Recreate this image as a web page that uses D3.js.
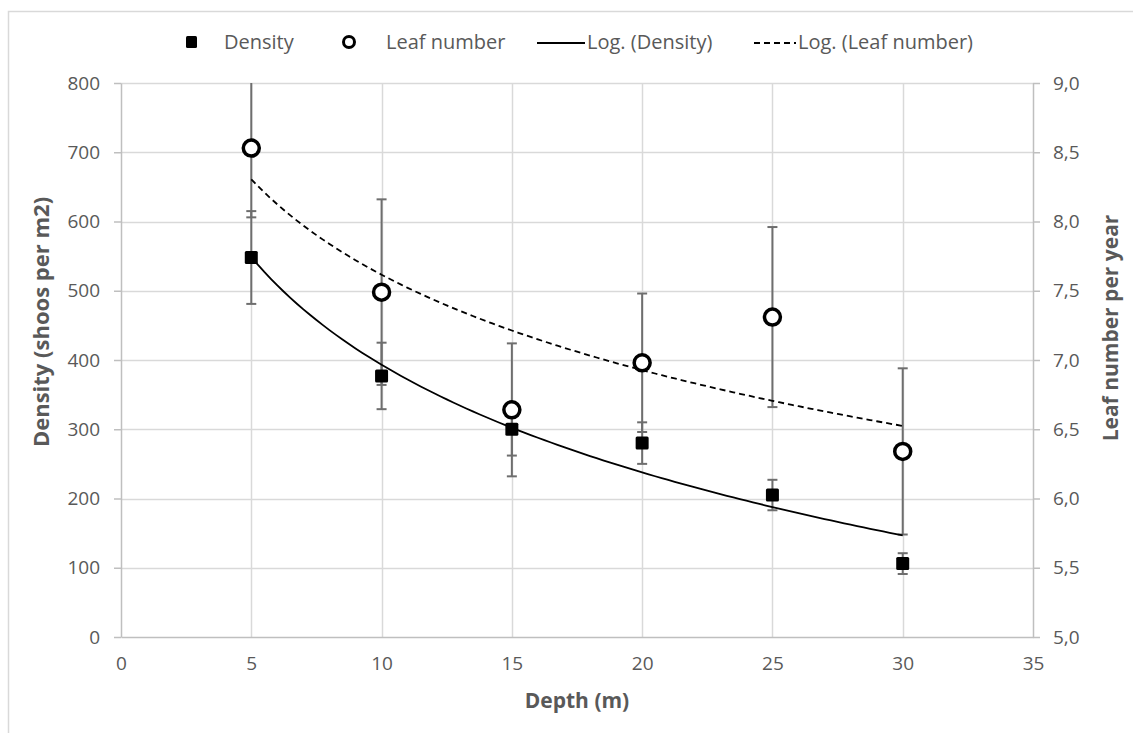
<!DOCTYPE html>
<html><head><meta charset="utf-8">
<script src="https://cdn.jsdelivr.net/npm/d3@7/dist/d3.min.js"></script>
<style>
body{margin:0;background:#fff}
text{font-family:"Open Sans",sans-serif}
</style>
</head><body>
<svg id="chart" width="1133" height="733"></svg>
<script>
// ---- data ----
const depth      = [5, 10, 15, 20, 25, 30];
const density    = [548, 377, 300, 280, 205, 106];
const densityErr = [67, 48, 38, 30, 22, 15];
const leaf       = [8.53, 7.49, 6.64, 6.98, 7.31, 6.34];
const leafErr    = [0.50, 0.67, 0.48, 0.50, 0.65, 0.60];
const xTicks      = [0, 5, 10, 15, 20, 25, 30, 35];
const yLeftTicks  = [0, 100, 200, 300, 400, 500, 600, 700, 800];
const yRightTicks = [5.0, 5.5, 6.0, 6.5, 7.0, 7.5, 8.0, 8.5, 9.0];
const legendLabels = ["Density", "Leaf number", "Log. (Density)", "Log. (Leaf number)"];
const xTitle = "Depth (m)";
const yLeftTitle = "Density (shoos per m2)";
const yRightTitle = "Leaf number per year";

// ---- layout ----
const L = 121, R = 1033, T = 83, B = 637;
const svg = d3.select("#chart");
const x  = d3.scaleLinear().domain([0, 35]).range([L, R]);
const yL = d3.scaleLinear().domain([0, 800]).range([B, T]);
const yR = d3.scaleLinear().domain([5, 9]).range([B, T]);

const gridC = "#d9d9d9", axisC = "#bfbfbf", textC = "#595959", errC = "#6e6e6e";

// chart border (only top/left visible)
svg.append("rect").attr("x", 8.5).attr("y", 11.5).attr("width", 1300).attr("height", 900)
  .attr("fill", "none").attr("stroke", gridC).attr("stroke-width", 1.5);

// gridlines
svg.append("g").selectAll("line").data(yLeftTicks.filter(d => d > 0)).join("line")
  .attr("x1", L).attr("x2", R).attr("y1", d => Math.round(yL(d)) + 0.5).attr("y2", d => Math.round(yL(d)) + 0.5)
  .attr("stroke", gridC).attr("stroke-width", 1.5);
svg.append("g").selectAll("line").data(xTicks.filter(d => d > 0 && d < 35)).join("line")
  .attr("y1", T).attr("y2", B).attr("x1", d => Math.round(x(d)) + 0.5).attr("x2", d => Math.round(x(d)) + 0.5)
  .attr("stroke", gridC).attr("stroke-width", 1.5);

// axes
function styleAxis(g) {
  g.selectAll(".domain").attr("stroke", axisC).attr("stroke-width", 1.5);
  g.selectAll(".tick line").attr("stroke", axisC).attr("stroke-width", 1.5);
  g.selectAll("text").attr("fill", textC).style("font-size", "19px").style("font-family", '"Open Sans",sans-serif');
}
svg.append("g").attr("transform", `translate(0,${B})`)
  .call(d3.axisBottom(x).tickValues(xTicks).tickSize(0).tickPadding(20).tickSizeOuter(0))
  .call(styleAxis);
svg.append("g").attr("transform", `translate(${L},0)`)
  .call(d3.axisLeft(yL).tickValues(yLeftTicks).tickSize(7).tickPadding(14).tickSizeOuter(0))
  .call(styleAxis);
svg.append("g").attr("transform", `translate(${R},0)`)
  .call(d3.axisRight(yR).tickValues(yRightTicks).tickSize(7).tickPadding(13).tickSizeOuter(0)
    .tickFormat(d => d3.format(".1f")(d).replace(".", ",")))
  .call(styleAxis);

// axis titles
svg.append("text").attr("x", (L + R) / 2).attr("y", 708).attr("text-anchor", "middle")
  .attr("fill", textC).style("font-size", "21px").style("font-weight", "bold").text(xTitle);
svg.append("text").attr("transform", "translate(49,322) rotate(-90)").attr("text-anchor", "middle")
  .attr("fill", textC).style("font-size", "22px").style("font-weight", "bold").text(yLeftTitle);
svg.append("text").attr("transform", "translate(1118,328) rotate(-90)").attr("text-anchor", "middle")
  .attr("fill", textC).style("font-size", "21px").style("font-weight", "bold").text(yRightTitle);

// clip
svg.append("clipPath").attr("id", "plotclip").append("rect")
  .attr("x", L).attr("y", T).attr("width", R - L).attr("height", B - T);
const plot = svg.append("g").attr("clip-path", "url(#plotclip)");

// error bars
function errorBars(vals, errs, y) {
  const g = plot.append("g").attr("stroke", errC).attr("stroke-width", 2);
  depth.forEach((d, i) => {
    const cx = x(d), y1 = y(vals[i] + errs[i]), y2 = y(vals[i] - errs[i]);
    g.append("line").attr("x1", cx).attr("x2", cx).attr("y1", y1).attr("y2", y2);
    g.append("line").attr("x1", cx - 5).attr("x2", cx + 5).attr("y1", y1).attr("y2", y1);
    g.append("line").attr("x1", cx - 5).attr("x2", cx + 5).attr("y1", y2).attr("y2", y2);
  });
}
errorBars(leaf, leafErr, yR);
errorBars(density, densityErr, yL);

// logarithmic trendlines (least squares fit on ln(x))
function logFit(xs, ys) {
  const lx = xs.map(Math.log);
  const mx = d3.mean(lx), my = d3.mean(ys);
  const a = d3.sum(lx, (v, i) => (v - mx) * (ys[i] - my)) / d3.sum(lx, v => (v - mx) ** 2);
  const b = my - a * mx;
  return v => a * Math.log(v) + b;
}
const fD = logFit(depth, density), fL = logFit(depth, leaf);
const samples = d3.range(0, 101).map(k => depth[0] + (depth[depth.length - 1] - depth[0]) * k / 100);
plot.append("path").datum(samples)
  .attr("d", d3.line().x(d => x(d)).y(d => yL(fD(d))))
  .attr("fill", "none").attr("stroke", "#000").attr("stroke-width", 1.8);
plot.append("path").datum(samples)
  .attr("d", d3.line().x(d => x(d)).y(d => yR(fL(d))))
  .attr("fill", "none").attr("stroke", "#000").attr("stroke-width", 1.8).attr("stroke-dasharray", "6,4");

// markers
svg.append("g").selectAll("rect").data(depth).join("rect")
  .attr("x", (d) => x(d) - 6.5).attr("y", (d, i) => yL(density[i]) - 6.5)
  .attr("width", 13).attr("height", 13).attr("rx", 1.5).attr("fill", "#000");
svg.append("g").selectAll("circle").data(depth).join("circle")
  .attr("cx", d => x(d)).attr("cy", (d, i) => yR(leaf[i])).attr("r", 8)
  .attr("fill", "#fff").attr("stroke", "#000").attr("stroke-width", 3.5);

// legend
const ly = 42;
const lg = svg.append("g");
lg.append("rect").attr("x", 186).attr("y", ly - 6).attr("width", 11).attr("height", 12).attr("rx", 1.5).attr("fill", "#000");
lg.append("circle").attr("cx", 349).attr("cy", ly).attr("r", 5.5).attr("fill", "#fff").attr("stroke", "#000").attr("stroke-width", 3);
lg.append("line").attr("x1", 537).attr("x2", 585).attr("y1", ly + 1).attr("y2", ly + 1).attr("stroke", "#000").attr("stroke-width", 1.8);
lg.append("line").attr("x1", 754).attr("x2", 796).attr("y1", ly + 1).attr("y2", ly + 1).attr("stroke", "#000").attr("stroke-width", 1.8).attr("stroke-dasharray", "6,4");
const lx = [224, 386, 587, 798];
legendLabels.forEach((t, i) => {
  lg.append("text").attr("x", lx[i]).attr("y", ly).attr("dy", "0.35em")
    .attr("fill", textC).style("font-size", "20px").text(t);
});
</script>
</body></html>
